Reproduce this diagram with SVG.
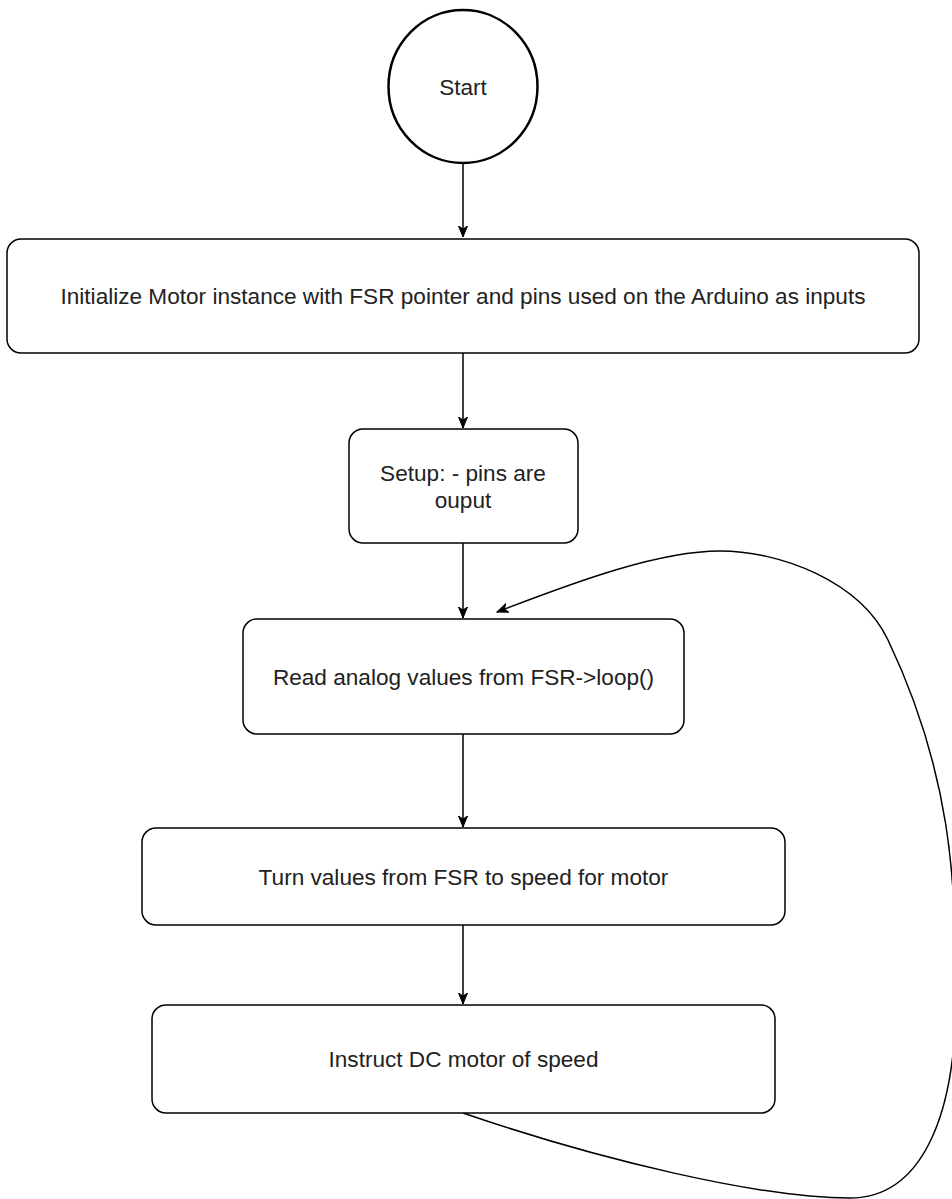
<svg xmlns="http://www.w3.org/2000/svg" width="952" height="1199" viewBox="0 0 952 1199">
  <style>
    .node { fill: #ffffff; stroke: #000000; stroke-width: 1.5; }
    .start { fill: #ffffff; stroke: #000000; stroke-width: 2.5; }
    .label { font-family: "Liberation Sans", Arial, Helvetica, sans-serif; font-size: 22.6px; fill: #222222; text-anchor: middle; }
    .edge { fill: none; stroke: #000000; stroke-width: 1.5; }
  </style>
  <defs>
    <marker id="arrow" markerUnits="userSpaceOnUse" markerWidth="12" markerHeight="10" viewBox="0 0 12 10" refX="11" refY="5" orient="auto">
      <path d="M0,0.5 L11,5 L0,9.5 L3,5 Z" fill="#000000" stroke="#000000" stroke-width="1"/>
    </marker>
  </defs>
  <rect width="952" height="1199" fill="#ffffff"/>

  <g id="connectors">
    <line class="edge" x1="463" y1="163" x2="463" y2="237" marker-end="url(#arrow)"/>
    <line class="edge" x1="463" y1="353" x2="463" y2="428" marker-end="url(#arrow)"/>
    <line class="edge" x1="463" y1="543" x2="463" y2="618" marker-end="url(#arrow)"/>
    <line class="edge" x1="463" y1="734" x2="463" y2="827" marker-end="url(#arrow)"/>
    <line class="edge" x1="463" y1="925" x2="463" y2="1004" marker-end="url(#arrow)"/>
    <path class="edge" d="M463 1113 C600 1160, 760 1198, 850 1198 C920 1198, 955 1120, 956 1000 C957 880, 950 770, 888 640 C860 581, 780 551, 720 551 C660 551, 580 580, 497 612" marker-end="url(#arrow)"/>
  </g>

  <g id="start">
    <ellipse class="start" cx="463" cy="86.5" rx="74.5" ry="76.5"/>
    <text class="label" x="463" y="95">Start</text>
  </g>

  <g id="init">
    <rect class="node" x="7" y="239" width="912" height="114" rx="14" ry="14"/>
    <text class="label" x="463" y="304">Initialize Motor instance with FSR pointer and pins used on the Arduino as inputs</text>
  </g>

  <g id="setup">
    <rect class="node" x="349" y="429" width="229" height="114" rx="14" ry="14"/>
    <text class="label" x="463" y="481">Setup: - pins are</text>
    <text class="label" x="463" y="508">ouput</text>
  </g>

  <g id="read">
    <rect class="node" x="243" y="619" width="441" height="115" rx="14" ry="14"/>
    <text class="label" x="463.5" y="685">Read analog values from FSR-&gt;loop()</text>
  </g>

  <g id="turn">
    <rect class="node" x="142" y="828" width="643" height="97" rx="14" ry="14"/>
    <text class="label" x="463.5" y="885">Turn values from FSR to speed for motor</text>
  </g>

  <g id="instruct">
    <rect class="node" x="152" y="1005" width="623" height="108" rx="14" ry="14"/>
    <text class="label" x="463.5" y="1067">Instruct DC motor of speed</text>
  </g>
</svg>
